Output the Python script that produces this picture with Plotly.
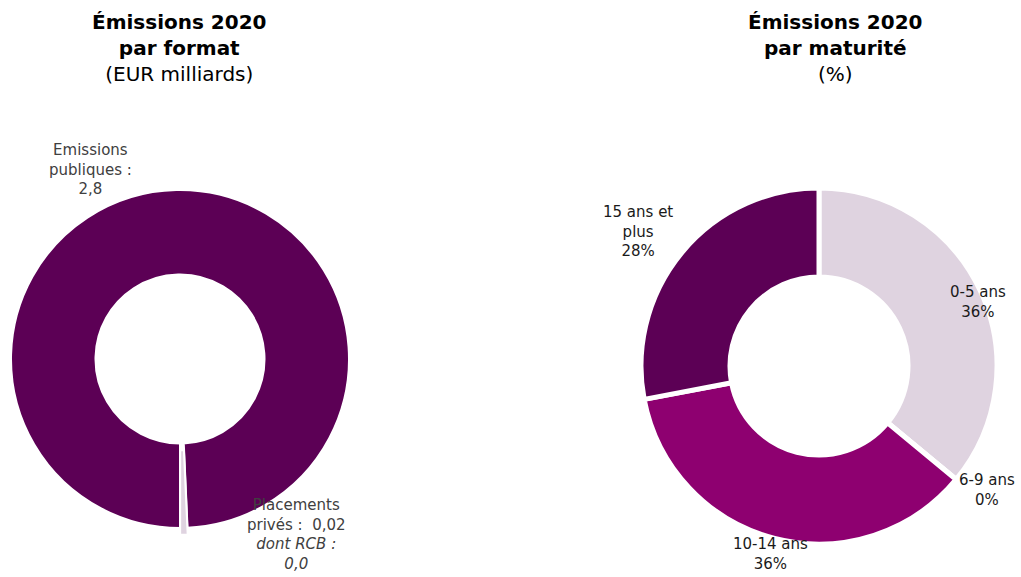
import plotly.graph_objects as go

# Issuance by format (EUR billions)
format_labels = ["Emissions publiques", "Placements privés"]
format_values = [2.8, 0.02]
rcb_value = 0.0

# Issuance by maturity (%)
maturity_labels = ["0-5 ans", "6-9 ans", "10-14 ans", "15 ans et plus"]
maturity_values = [36, 0, 36, 28]

DARK = "#5C0055"
LIGHT = "#DFD3E0"
MAGENTA = "#8E0070"
MID = "#B07AA6"
FONT = "DejaVu Sans"

W, H = 1021, 577


def fr(v, nd):
    return f"{v:.{nd}f}".replace(".", ",")


def px(x):
    return x / W


def py(y):
    return 1 - y / H


fig = go.Figure()

# left donut: centre (180, 359), radius accounts for the pulled slice
pull = 0.04
r_left = 169 * (1 + pull)
fig.add_trace(go.Pie(
    labels=format_labels,
    values=format_values,
    hole=0.5,
    sort=False,
    direction="clockwise",
    rotation=180,
    pull=[0, pull],
    marker=dict(colors=[DARK, LIGHT], line=dict(color="white", width=2)),
    textinfo="none",
    hoverinfo="label+value",
    showlegend=False,
    domain=dict(x=[px(180 - r_left), px(180 + r_left)],
                y=[py(359 + r_left), py(359 - r_left)]),
))

# right donut: centre (819, 366)
r_right = 178
fig.add_trace(go.Pie(
    labels=maturity_labels,
    values=maturity_values,
    hole=0.5,
    sort=False,
    direction="clockwise",
    rotation=0,
    marker=dict(colors=[LIGHT, MID, MAGENTA, DARK], line=dict(color="white", width=5)),
    textinfo="none",
    hoverinfo="label+percent",
    showlegend=False,
    domain=dict(x=[px(819 - r_right), px(819 + r_right)],
                y=[py(366 + r_right), py(366 - r_right)]),
))

annotations = []


def add_text(x, y, text, size, color, yanchor="middle"):
    annotations.append(dict(
        x=px(x), y=py(y), xref="paper", yref="paper",
        text=text, showarrow=False, xanchor="center", yanchor=yanchor,
        font=dict(family=FONT, size=size, color=color), align="center",
    ))


# titles
add_text(179, 48, "<b>Émissions 2020<br>par format</b><br>(EUR milliards)", 20, "#000000")
add_text(835, 48, "<b>Émissions 2020<br>par maturité</b><br>(%)", 20, "#000000")

# format labels
GREY = "#404040"
LBL = 15
add_text(90, 170, "Emissions<br>publiques :<br>" + fr(format_values[0], 1), LBL, GREY)
add_text(296, 575, "Placements<br>privés :  " + fr(format_values[1], 2)
         + "<br><i>dont RCB :<br>" + fr(rcb_value, 1) + "</i>", LBL, GREY,
         yanchor="bottom")

# maturity labels
DARKTXT = "#1A1A1A"
mat_pos = [(978, 302, "middle"), (987, 490, "middle"),
           (770, 575, "bottom"), (638, 232, "middle")]
mat_text = ["0-5 ans", "6-9 ans", "10-14 ans", "15 ans et<br>plus"]
for (x, y, anc), t, v in zip(mat_pos, mat_text, maturity_values):
    add_text(x, y, f"{t}<br>{v}%", LBL, DARKTXT, yanchor=anc)

fig.update_layout(
    width=W, height=H,
    margin=dict(l=0, r=0, t=0, b=0),
    paper_bgcolor="white",
    plot_bgcolor="white",
    annotations=annotations,
)

fig.write_html("out.html")
